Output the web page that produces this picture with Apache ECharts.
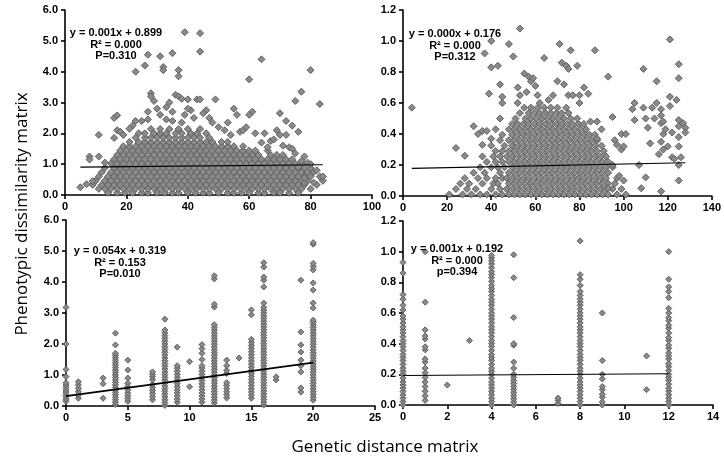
<!DOCTYPE html>
<html><head><meta charset="utf-8">
<script src="https://cdn.jsdelivr.net/npm/echarts@6/dist/echarts.min.js"></script>
<style>html,body{margin:0;padding:0;background:#fff}#c{width:724px;height:467px}</style>
</head><body><div id="c"></div>
<script>
// ---------- Panel 1 (top-left): dense cloud rows [y, xs] + scattered points ----------
const p1RowY = [0.07,0.2,0.33,0.46,0.6,0.74,0.88,1.02,1.16,1.3,1.44,1.58,1.72,1.86,2.0,2.14];
const p1RowX = [
 [14,17,19.5,22,25,27,30,32.5,35,37,40,42.5,45,47,50,53,55,57.5,60,63,65,68,70,73,76],
 [11,13,15,17,19,21,23,25,27,29,31,33,35,37,39,41,43,45,47,49,51,53,55,57,59,61,63,65,67,69,71,73,75,77,80],
 [9,12,14,16,18,20,22,24,26,28,30,32,34,36,38,40,42,44,46,48,50,52,54,56,58,60,62,64,66,68,70,72,74,76,78,82],
 [10,13,15,17,19,21,23,25,27,29,31,33,35,37,39,41,43,45,47,49,51,53,55,57,59,61,63,65,67,69,71,73,75,77,79,84],
 [11,14,16,18,20,22,24,26,28,30,32,34,36,38,40,42,44,46,48,50,52,54,56,58,60,62,64,66,68,70,72,74,76,78,80,83],
 [12,15,17,19,21,23,25,27,29,31,33,35,37,39,41,43,45,47,49,51,53,55,57,59,61,63,65,67,69,71,73,75,77,79,81],
 [13,16,18,20,22,24,26,28,30,32,34,36,38,40,42,44,46,48,50,52,54,56,58,60,62,64,66,68,70,72,74,76,78,80],
 [15,17,19,21,23,25,27,29,31,33,35,37,39,41,43,45,47,49,51,53,55,57,59,61,63,65,67,69,71,73,75,77],
 [16,18,20,22,24,26,28,30,32,34,36,38,40,42,44,46,48,50,52,54,56,58,60,62,64,66,68,70,72,74],
 [17,19,21,23,25,27,29,31,33,35,37,39,41,43,45,47,49,51,53,55,57,59,61,63,67,69,71],
 [18,20,22,24,26,28,30,32,34,36,38,40,42,44,46,48,50,52,54,56,58,60,62,66],
 [19,21,23,25,27,29,31,33,35,37,39,41,43,45,47,49,51,53,55,58],
 [21,24,26,28,30,32,34,36,38,40,42,44,46,48,51,53],
 [23,26,28,30,32,34,36,38,40,42,44,47],
 [26,29,31,33,36,38,41,43,46],
 [28,31,34,37,40,44]
];
const p1Scatter = [[5,0.25],[8,1.25],[8,1.15],[11,1.95],[11,1.25],[9,0.45],[7,0.35],[13,1.05],
 [16,2.5],[17,2.58],[17,2.1],[16,1.85],[18,2.05],[19,1.95],
 [23,4.0],[26,4.2],[27,4.55],[31,4.5],[32,4.15],[32,4.05],[35,4.6],[37,4.05],[37,3.85],[39,5.28],[44,5.25],[44,4.65],[64,4.4],[80,4.05],[60,3.75],[77,3.35],[75,3.05],[83,2.95],
 [70,2.65],[72,2.4],[74,2.25],[76,2.05],[49,3.1],[43,3.1],[44,3.1],[40,3.1],[36,3.25],[37,3.2],[38,3.12],[28,3.3],[28,3.2],[29,3.05],[30,2.8],[33,2.85],[34,3.0],[35,2.7],
 [55,2.8],[56,2.6],[61,2.7],[60,2.6],[46,2.75],[47,2.5],[45,2.65],[41,2.75],[40,2.8],[39,2.6],[42,2.5],[25,2.4],[27,2.7],[27,2.45],[24,2.0],[22,2.25],[23,2.4],[21,2.15],
 [31,2.6],[33,2.45],[35,2.4],[38,2.35],[48,2.35],[50,2.2],[52,2.1],[53,2.35],[54,1.95],[57,2.05],[58,2.1],[59,2.2],[62,2.0],[65,2.0],[64,1.7],[66,1.55],[67,1.75],[68,1.8],[69,2.1],
 [70,1.95],[72,1.95],[71,1.6],[73,1.55],[74,1.5],[75,1.35],[78,1.25],[77,1.1],[79,1.05],[80,1.0],[81,0.4],[82,0.8],[84,0.6],[78,0.4],[78,0.55],[76,0.9]];
const p1Fit = [[5,0.904],[84,0.983]];

// ---------- Panel 2 (top-right) ----------
const p2RowY = [0.01,0.045,0.08,0.115,0.15,0.185,0.22,0.255,0.29,0.325,0.36,0.395,0.43,0.465,0.5,0.535,0.57];
const p2RowX = [
 [21,27,31,35,38,42,45,48,50.5,53,55.5,58,60.5,63,65.5,68,70.5,73,75.5,78,80.5,83,85.5,88,90.5,93,97,101],
 [24,29,33,40,44,47,49.5,52,54.5,57,59.5,62,64.5,67,69.5,72,74.5,77,79.5,82,84.5,87,89.5,92,95,99],
 [26,30,36,41,43,48,50.5,53,55.5,58,60.5,63,65.5,68,70.5,73,75.5,78,80.5,83,85.5,88,90.5,93,96],
 [28,34,38,42,45,47,49.5,52,54.5,57,59.5,62,64.5,67,69.5,72,74.5,77,79.5,82,84.5,87,89.5,92,97],
 [32,37,44,48,50.5,53,55.5,58,60.5,63,65.5,68,70.5,73,75.5,78,80.5,83,85.5,88,90.5,93],
 [35,40,43,46,49.5,52,54.5,57,59.5,62,64.5,67,69.5,72,74.5,77,79.5,82,84.5,87,89.5,92,95],
 [38,42,45,48,50.5,53,55.5,58,60.5,63,65.5,68,70.5,73,75.5,78,80.5,83,85.5,88,90.5,93],
 [36,41,44,47,49.5,52,54.5,57,59.5,62,64.5,67,69.5,72,74.5,77,79.5,82,84.5,87,89.5,92],
 [42,45,48,50.5,53,55.5,58,60.5,63,65.5,68,70.5,73,75.5,78,80.5,83,85.5,88,91],
 [40,46,49.5,52,54.5,57,59.5,62,64.5,67,69.5,72,74.5,77,79.5,82,84.5,87,90],
 [44,48,50.5,53,55.5,58,60.5,63,65.5,68,70.5,73,75.5,78,80.5,83,85.5,88],
 [45,49.5,52,54.5,57,59.5,62,64.5,67,69.5,72,74.5,77,79.5,82,84.5,87],
 [48,50.5,53,55.5,58,60.5,63,65.5,68,70.5,73,75.5,78,80.5,83],
 [49.5,52,54.5,57,59.5,62,64.5,67,69.5,72,74.5,77,79.5,82],
 [51,55.5,58,60.5,63,65.5,68,70.5,73,76,79],
 [53,57,59.5,62,64.5,67,69.5,72,75],
 [55,58,61,64,67,70,74]
];
const p2Scatter = [[4,0.57],[24,0.31],[28,0.26],[32,0.45],[34,0.4],[36,0.42],[36,0.33],[37,0.92],[38,0.42],[39,0.66],[40,0.83],[40,1.0],[40,0.37],[42,0.43],[43,0.84],[44,0.72],[44,0.5],[45,0.64],[45,0.6],
 [48,0.98],[50,0.9],[52,0.7],[53,1.08],[53,0.65],[52,0.6],[55,0.79],[56,0.67],[57,0.77],[58,0.74],[59,0.76],[60,0.71],[61,0.65],[62,0.6],[64,0.89],[66,0.62],[68,0.65],[70,0.74],[71,0.98],[72,0.86],[73,0.72],
 [74,0.84],[75,0.82],[75,0.65],[76,0.94],[77,0.65],[79,0.84],[80,0.65],[80,0.6],[82,0.7],[84,0.66],[85,0.48],[87,0.94],[88,0.48],[88,0.37],[90,0.43],[93,0.77],[95,0.51],[96,0.36],[97,0.33],[99,0.4],[99,0.3],[100,0.32],
 [98,0.13],[100,0.1],[104,0.56],[105,0.6],[105,0.49],[107,0.2],[108,0.05],[109,0.82],[109,0.57],[110,0.5],[110,0.12],[111,0.44],[112,0.34],[113,0.57],[114,0.5],[115,0.74],[115,0.6],[116,0.27],
 [117,0.56],[117,0.52],[117,0.47],[117,0.35],[117,0.03],[118,0.48],[118,0.4],[118,0.3],[119,0.43],[120,0.32],[121,1.01],[121,0.64],[121,0.58],[122,0.41],[122,0.25],[123,0.24],[124,0.62],
 [125,0.45],[125,0.2],[125,0.85],[125,0.76],[125,0.49],[125,0.38],[125,0.32],[125,0.1],[126,0.25],[127,0.47],[128,0.44],[128,0.41],[101,0.4],[95,0.2],[93,0.05]];
const p2Fit = [[4,0.178],[128,0.215]];

// ---------- Panel 3 (bottom-left): columns [x, ys] ----------
const p3ColX = [0,1,3,4,5,7,8,9,10,11,12,13,14,15,16,17,19,20];
const p3ColY = [
 [0.15,0.22,0.3,0.37,0.45,0.52,0.6,0.68,0.75,0.95,1.18,2.0,3.18],
 [0.25,0.35,0.46,0.57,0.68,0.78],
 [0.25,0.72,0.9],
 [0.05,0.12,0.2,0.28,0.36,0.44,0.52,0.6,0.68,0.76,0.84,0.92,1.0,1.08,1.16,1.24,1.32,1.4,1.48,1.56,1.64,1.7,1.97,2.35],
 [0.15,0.24,0.33,0.42,0.52,0.62,0.73,0.9,1.16,1.48],
 [0.2,0.3,0.4,0.5,0.6,0.7,0.85,0.95,1.02,1.1],
 [0.02,0.11,0.2,0.29,0.38,0.47,0.56,0.65,0.74,0.83,0.92,1.01,1.1,1.19,1.28,1.37,1.46,1.55,1.64,1.73,1.82,1.91,2.0,2.09,2.18,2.27,2.36,2.45,2.8],
 [0.12,0.22,0.32,0.42,0.52,0.62,0.72,0.82,0.92,1.02,1.12,1.22,1.3,1.9],
 [0.62,1.43],
 [0.12,0.22,0.32,0.42,0.52,0.62,0.72,0.82,0.92,1.02,1.12,1.22,1.3,1.5,1.7,1.85,1.98],
 [0.1,0.19,0.28,0.37,0.46,0.55,0.64,0.73,0.82,0.91,1.0,1.09,1.18,1.27,1.36,1.45,1.54,1.63,1.72,1.81,1.9,1.99,2.08,2.17,2.26,2.35,2.44,2.53,2.62,3.19,3.28,4.1,4.2],
 [0.26,0.36,0.46,0.56,0.66,0.75,1.05,1.15,1.3,1.48],
 [1.55],
 [0.25,0.35,0.45,0.55,0.65,0.75,0.85,0.95,1.05,1.15,1.25,1.35,1.45,1.55,1.65,1.75,1.85,1.95,2.05,2.15,2.94,3.1],
 [0.03,0.12,0.21,0.3,0.39,0.48,0.57,0.66,0.75,0.84,0.93,1.02,1.11,1.2,1.29,1.38,1.47,1.56,1.65,1.74,1.83,1.92,2.01,2.1,2.19,2.28,2.37,2.46,2.55,2.64,2.73,2.82,2.91,3.0,3.09,3.18,3.32,3.84,4.06,4.16,4.48,4.62],
 [0.84,0.94],
 [0.45,0.58,1.1,1.3,1.48,1.74,1.97,2.39,4.06],
 [0.19,0.28,0.37,0.46,0.55,0.64,0.73,0.82,0.91,1.0,1.09,1.18,1.27,1.36,1.45,1.54,1.63,1.72,1.81,1.9,1.99,2.08,2.17,2.26,2.35,2.44,2.53,2.62,2.7,2.77,3.16,3.32,3.74,3.97,4.39,4.5,4.6,5.22,5.27]
];
const p3Fit = [[0,0.319],[20,1.399]];

// ---------- Panel 4 (bottom-right): columns [x, ys] ----------
const p4ColX = [0,1,2,3,4,5,7,8,9,11,12];
const p4ColY = [
 [0,0.022,0.044,0.066,0.088,0.11,0.13,0.15,0.175,0.2,0.22,0.24,0.265,0.29,0.31,0.33,0.355,0.38,0.4,0.42,0.445,0.47,0.49,0.51,0.535,0.56,0.58,0.62,0.65,0.69,0.72,0.86,0.93],
 [0.03,0.06,0.09,0.12,0.15,0.18,0.21,0.24,0.28,0.3,0.36,0.38,0.43,0.45,0.49,0.67,1.0],
 [0.13],
 [0.42],
 [0,0.022,0.044,0.066,0.088,0.11,0.13,0.15,0.175,0.2,0.22,0.24,0.265,0.29,0.31,0.33,0.355,0.38,0.4,0.42,0.445,0.47,0.49,0.51,0.535,0.56,0.58,0.6,0.625,0.65,0.67,0.69,0.715,0.74,0.76,0.78,0.805,0.83,0.85,0.87,0.895,0.92,0.94,0.96,0.975],
 [0,0.02,0.04,0.06,0.08,0.1,0.12,0.14,0.16,0.18,0.2,0.24,0.28,0.39,0.4,0.57,0.83,0.98],
 [0.01,0.03,0.045],
 [0,0.022,0.044,0.066,0.088,0.11,0.13,0.15,0.175,0.2,0.22,0.24,0.265,0.29,0.31,0.33,0.355,0.38,0.4,0.42,0.445,0.47,0.49,0.51,0.535,0.56,0.58,0.6,0.625,0.65,0.67,0.69,0.715,0.74,0.78,0.82,0.85,1.07],
 [0,0.02,0.05,0.07,0.1,0.12,0.17,0.2,0.29,0.6],
 [0.1,0.32],
 [0,0.022,0.044,0.066,0.09,0.11,0.135,0.16,0.18,0.2,0.225,0.25,0.27,0.3,0.32,0.34,0.37,0.39,0.42,0.44,0.47,0.5,0.52,0.55,0.57,0.6,0.63,0.7,0.74,0.77,0.82,1.0]
];
const p4Fit = [[0,0.192],[12,0.204]];

// tick settings
const xMax = [100,140,25,14], xStep = [20,20,5,2];
const yMax = [6,1.2,6,1.2], yStep = [1,0.2,1,0.2];

const notes = [
 ['y = 0.001x + 0.899','R² = 0.000','P=0.310'],
 ['y = 0.000x + 0.176','R² = 0.000','P=0.312'],
 ['y = 0.054x + 0.319','R² = 0.153','P=0.010'],
 ['y = 0.001x + 0.192','R² = 0.000','p=0.394']
];

// ---------- build ----------
function rowsToPts(ys, xs){ const out=[]; ys.forEach((y,i)=>xs[i].forEach(x=>out.push([x,y]))); return out; }
function colsToPts(xs, ys){ const out=[]; xs.forEach((x,i)=>ys[i].forEach(y=>out.push([x,y]))); return out; }

const pts = [
 rowsToPts(p1RowY,p1RowX).concat(p1Scatter),
 rowsToPts(p2RowY,p2RowX).concat(p2Scatter),
 colsToPts(p3ColX,p3ColY),
 colsToPts(p4ColX,p4ColY)
];
const fits = [p1Fit,p2Fit,p3Fit,p4Fit];

const grids = [
 {left:65, top:10, width:307, height:185},
 {left:403, top:10, width:309, height:186},
 {left:66, top:220, width:309, height:186},
 {left:403, top:221, width:310, height:184}
];
const lblFont = {color:'#000', fontWeight:'bold', fontSize:11, fontFamily:'"Liberation Sans", Arial, sans-serif'};
const axLine = {color:'#000', width:1.6};

const option = {
 animation:false,
 backgroundColor:'#fff',
 grid: grids,
 xAxis: grids.map((g,i)=>({gridIndex:i, type:'value', min:0, max:xMax[i], interval:xStep[i],
   axisLine:{show:true, onZero:false, lineStyle:axLine},
   axisTick:{show:true, length:4, inside:false, lineStyle:axLine},
   axisLabel:Object.assign({margin:6, showMaxLabel:true}, lblFont),
   splitLine:{show:false}})),
 yAxis: grids.map((g,i)=>({gridIndex:i, type:'value', min:0, max:yMax[i], interval:yStep[i],
   axisLine:{show:true, onZero:false, lineStyle:axLine},
   axisTick:{show:true, length:4, inside:false, lineStyle:axLine},
   axisLabel:Object.assign({margin:7, formatter:v=>Number(v).toFixed(1)}, lblFont),
   splitLine:{show:false}})),
 series: [],
 graphic: []
};
pts.forEach((d,i)=>{
 option.series.push({type:'scatter', xAxisIndex:i, yAxisIndex:i, data:d, symbol:'diamond',
   symbolSize: i<2 ? 7 : 6, silent:true,
   itemStyle:{color:'#8a8a8a', borderColor:'#606060', borderWidth:1, opacity:1}});
});
fits.forEach((d,i)=>{
 option.series.push({type:'line', xAxisIndex:i, yAxisIndex:i, data:d, symbol:'none', silent:true, z:5,
   lineStyle:{color:'#000', width: i===2 ? 1.6 : 1.1}});
});
const notePos = [[116,33],[455,34],[120,251],[457,249]];
notes.forEach((n,i)=>{
 n.forEach((t,j)=>{
  option.graphic.push({type:'text', x:notePos[i][0], y:notePos[i][1]+j*11.5, z:10,
    style:{text:t, fill:'#000', font:'bold 11px "Liberation Sans", Arial, sans-serif', textAlign:'center', textVerticalAlign:'middle'}});
 });
});
option.graphic.push({type:'text', x:22, y:214, rotation:Math.PI/2, z:10,
  style:{text:'Phenotypic dissimilarity matrix', fill:'#000', font:'17px "Open Sans", sans-serif', textAlign:'center', textVerticalAlign:'middle'}});
option.graphic.push({type:'text', x:385, y:447, z:10,
  style:{text:'Genetic distance matrix', fill:'#000', font:'17px "Open Sans", sans-serif', textAlign:'center', textVerticalAlign:'middle'}});

const chart = echarts.init(document.getElementById('c'), null, {renderer:'canvas'});
chart.setOption(option);
</script>
</body></html>
